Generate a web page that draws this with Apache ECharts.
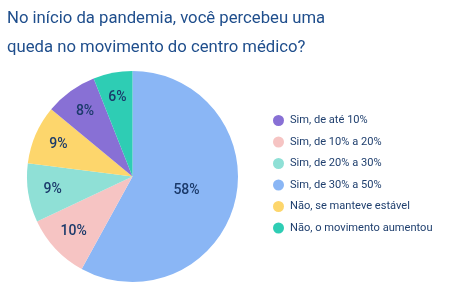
<!DOCTYPE html>
<html>
<head>
<meta charset="utf-8">
<script src="https://cdn.jsdelivr.net/npm/echarts@6/dist/echarts.min.js"></script>
<style>
  html, body { margin: 0; padding: 0; background: #fff; }
  #chart { width: 457px; height: 296px; }
</style>
</head>
<body>
<div id="chart"></div>
<script>
// ordem das fatias (sentido horário a partir do topo)
var categories = ['Sim, de 30% a 50%', 'Sim, de 10% a 20%', 'Sim, de 20% a 30%', 'Não, se manteve estável', 'Sim, de até 10%', 'Não, o movimento aumentou'];
var values = [58, 10, 9, 9, 8, 6];
var colors = ['#8ab6f5', '#f6c4c3', '#8fe0d6', '#fdd66c', '#8870d5', '#2ecdb4'];
// ordem da legenda
var legendOrder = ['Sim, de até 10%', 'Sim, de 10% a 20%', 'Sim, de 20% a 30%', 'Sim, de 30% a 50%', 'Não, se manteve estável', 'Não, o movimento aumentou'];

var chart = echarts.init(document.getElementById('chart'));

var labelStyle = {
    color: '#1b3a6b',
    fontSize: 14,
    fontWeight: 500,
    fontFamily: 'Roboto'
};

var mainData = categories.map(function (c, i) {
    return {
        name: c,
        value: values[i],
        itemStyle: { color: colors[i] },
        // só a fatia grande mostra rótulo aqui
        label: { show: i === 0 }
    };
});

// série transparente só para os rótulos das fatias pequenas (mais perto da borda)
var labelData = categories.map(function (c, i) {
    return {
        name: c,
        value: values[i],
        itemStyle: { color: 'rgba(0,0,0,0)' },
        label: { show: i !== 0 }
    };
});

var option = {
    animation: false,
    title: {
        text: 'No início da pandemia, você percebeu uma\nqueda no movimento do centro médico?',
        left: 2,
        top: -1,
        textStyle: {
            color: '#1f4e8c',
            fontSize: 16.7,
            fontWeight: 'normal',
            fontFamily: 'Roboto',
            lineHeight: 29
        }
    },
    legend: {
        orient: 'vertical',
        left: 268,
        top: 110,
        icon: 'circle',
        itemWidth: 11,
        itemHeight: 11,
        itemGap: 10.5,
        data: legendOrder,
        textStyle: {
            color: '#1f3f6e',
            fontSize: 11.1,
            fontFamily: 'Roboto',
            padding: [0, 0, 0, 1]
        }
    },
    series: [
        {
            type: 'pie',
            center: [132.5, 176.5],
            radius: [0, 105.5],
            startAngle: 90,
            clockwise: true,
            silent: true,
            label: Object.assign({ position: 'inside', formatter: '{c}%' }, labelStyle),
            labelLine: { show: false },
            data: mainData
        },
        {
            type: 'pie',
            center: [132.5, 176.5],
            radius: [50, 105.5],
            startAngle: 90,
            clockwise: true,
            silent: true,
            label: Object.assign({ position: 'inside', formatter: '{c}%' }, labelStyle),
            labelLine: { show: false },
            data: labelData
        }
    ]
};

chart.setOption(option);
</script>
</body>
</html>
